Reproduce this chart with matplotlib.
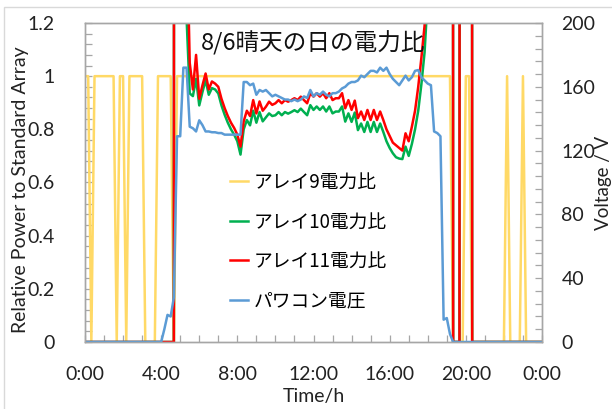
import matplotlib
matplotlib.use('Agg')
import matplotlib.pyplot as plt
from matplotlib.patches import Rectangle
from matplotlib.ticker import MultipleLocator, FixedLocator, FixedFormatter

# 10-minute samples, 0:00 .. 24:00 (145 points)
time_h = [i / 6 for i in range(145)]

# Array 9 power ratio (rows = 2 hours each)
arr9 = [
    1, 1, 0, 1, 1, 1, 1, 1, 1, 1, 0, 1,
    1, 0, 1, 1, 1, 1, 1, 0, 0, 0, 0, 1,
    1, 1, 1, 1, 0, 1, 1, 1, 1, 1, 1, 1,
    1, 1, 1, 1, 1, 1, 1, 1, 1, 1, 1, 1,
    1, 1, 1, 1, 1, 1, 1, 1, 1, 1, 1, 1,
    1, 1, 1, 1, 1, 1, 1, 1, 1, 1, 1, 1,
    1, 1, 1, 1, 1, 1, 1, 1, 1, 1, 1, 1,
    1, 1, 1, 1, 1, 1, 1, 1, 1, 1, 1, 1,
    1, 1, 1, 1, 1, 1, 1, 1, 1, 1, 1, 1,
    1, 1, 1, 1, 1, 1, 1, 1, 0, 0, 0, 0,
    1, 1, 0, 0, 0, 0, 0, 0, 0, 0, 0, 0,
    0, 1, 0, 0, 0, 0, 1, 0, 0, 0, 0, 0,
    0,
]

# Array 10 power ratio
arr10 = [
    0, 0, 0, 0, 0, 0, 0, 0, 0, 0, 0, 0,
    0, 0, 0, 0, 0, 0, 0, 0, 0, 0, 0, 0,
    0, 0, 0, 0, 0, 40, 20, 6, 1.22, 0.935, 0.925, 0.99,
    0.89, 0.94, 0.985, 0.93, 0.955, 0.95, 0.935, 0.89, 0.855, 0.825, 0.80, 0.78,
    0.755, 0.705, 0.80, 0.835, 0.815, 0.87, 0.825, 0.865, 0.83, 0.845, 0.86, 0.85,
    0.853, 0.865, 0.853, 0.865, 0.859, 0.865, 0.872, 0.865, 0.878, 0.865, 0.853, 0.891,
    0.873, 0.886, 0.873, 0.886, 0.867, 0.886, 0.86, 0.867, 0.867, 0.886, 0.829, 0.86,
    0.828, 0.863, 0.797, 0.822, 0.79, 0.828, 0.79, 0.828, 0.79, 0.822, 0.79, 0.755,
    0.73, 0.71, 0.695, 0.69, 0.688, 0.735, 0.70, 0.745, 0.80, 0.87, 0.97, 1.09,
    1.3, 3, 8, 18, 30, 40, 40, 40, 0, 0, 0, 40,
    40, 40, 0, 0, 0, 0, 0, 0, 0, 0, 0, 0,
    0, 0, 0, 0, 0, 0, 0, 0, 0, 0, 0, 0,
    0,
]

# Array 11 power ratio
arr11 = [
    0, 0, 0, 0, 0, 0, 0, 0, 0, 0, 0, 0,
    0, 0, 0, 0, 0, 0, 0, 0, 0, 0, 0, 0,
    0, 0, 0, 0, 0, 40, 20, 6, 1.6, 1.05, 0.95, 1.08,
    0.915, 0.965, 1.01, 0.95, 0.98, 0.972, 0.96, 0.915, 0.88, 0.85, 0.825, 0.805,
    0.78, 0.735, 0.83, 0.87, 0.85, 0.91, 0.86, 0.905, 0.87, 0.885, 0.904, 0.892,
    0.898, 0.91, 0.898, 0.91, 0.904, 0.91, 0.917, 0.91, 0.923, 0.91, 0.898, 0.936,
    0.923, 0.936, 0.923, 0.936, 0.917, 0.936, 0.91, 0.917, 0.917, 0.936, 0.879, 0.91,
    0.873, 0.908, 0.842, 0.867, 0.835, 0.873, 0.835, 0.873, 0.835, 0.867, 0.835, 0.80,
    0.775, 0.75, 0.74, 0.73, 0.72, 0.785, 0.755, 0.81, 0.87, 0.96, 1.07, 1.19,
    1.7, 4, 10, 20, 30, 40, 40, 40, 0, 0, 0, 40,
    40, 40, 0, 0, 0, 0, 0, 0, 0, 0, 0, 0,
    0, 0, 0, 0, 0, 0, 0, 0, 0, 0, 0, 0,
    0,
]

# Power conditioner voltage (V)
pcs_v = [
    0, 0, 0, 0, 0, 0, 0, 0, 0, 0, 0, 0,
    0, 0, 0, 0, 0, 0, 0, 0, 0, 0, 0, 0,
    0, 8, 17, 16, 28, 129, 129, 172, 172, 135, 134, 132,
    139, 136, 132, 132, 131.5, 131.5, 131, 131, 130, 130, 130, 130,
    130, 130, 163, 163, 161, 162, 155, 158, 157, 158, 156, 154,
    155, 154, 153, 152, 152, 151, 152, 151, 152, 154, 153, 158,
    154, 156, 155, 157, 155, 154, 156, 156, 157, 159, 160, 162,
    163, 163, 164, 167, 166, 168, 170, 170, 169, 172, 170, 172,
    168, 165, 163, 161, 164, 167, 164, 166, 170, 170.5, 166, 164,
    162, 161, 132, 131, 129, 14, 15, 5, 0, 0, 0, 0,
    0, 0, 0, 0, 0, 0, 0, 0, 0, 0, 0, 0,
    0, 0, 0, 0, 0, 0, 0, 0, 0, 0, 0, 0,
    0,
]

labels = ['アレイ9電力比', 'アレイ10電力比', 'アレイ11電力比', 'パワコン電圧']
colors = ['#FFD966', '#00B050', '#FF0000', '#5B9BD5']
x_tick_hours = [0, 4, 8, 12, 16, 20, 24]
x_tick_labels = ['0:00', '4:00', '8:00', '12:00', '16:00', '20:00', '0:00']
title = '8/6晴天の日の電力比'

W, H = 612, 409
fig = plt.figure(figsize=(W / 100, H / 100), dpi=100)
fig.patch.set_facecolor('white')

L, R, T, B = 85, 542, 23, 342
ax = fig.add_axes([L / W, 1 - B / H, (R - L) / W, (B - T) / H])
ax2 = ax.twinx()

lw = 1.8
l9, = ax.plot(time_h, arr9, color=colors[0], lw=lw)
l10, = ax.plot(time_h, arr10, color=colors[1], lw=lw)
l11, = ax.plot(time_h, arr11, color=colors[2], lw=lw)
lv, = ax2.plot(time_h, pcs_v, color=colors[3], lw=lw)

ax.set_xlim(0, 24)
ax.set_ylim(0, 1.2)
ax2.set_ylim(0, 200)

tick_font = ['Lato', 'DejaVu Sans']
gray = '#a6a6a6'

ax.xaxis.set_major_locator(FixedLocator(x_tick_hours))
ax.xaxis.set_major_formatter(FixedFormatter(x_tick_labels))
ax.xaxis.set_minor_locator(MultipleLocator(1))
ax.yaxis.set_minor_locator(MultipleLocator(0.04))
ax.set_yticks([0, 0.2, 0.4, 0.6, 0.8, 1.0, 1.2])
ax.set_yticklabels(['0', '0.2', '0.4', '0.6', '0.8', '1', '1.2'])
ax2.yaxis.set_major_locator(MultipleLocator(40))
ax2.yaxis.set_minor_locator(MultipleLocator(8))

for a in (ax, ax2):
    for s in a.spines.values():
        s.set_color(gray)
        s.set_linewidth(1.0)
    a.tick_params(which='both', direction='in', length=5, width=0.9, color=gray,
                  labelsize=14, labelcolor='#222222')
ax.tick_params(axis='x', pad=17)
ax.tick_params(axis='y', pad=22)
ax2.tick_params(axis='y', pad=14)
for t in ax.get_xticklabels() + ax.get_yticklabels() + ax2.get_yticklabels():
    t.set_family(tick_font)

ax.set_xlabel('Time/h', family=tick_font, fontsize=14, color='#222222', labelpad=4)
ax.set_ylabel('Relative Power to Standard Array', family=tick_font, fontsize=14,
              color='#222222')
ax.yaxis.set_label_coords(-0.122, 0.476)
ax2.set_ylabel('Voltage / V', family=tick_font, fontsize=13.5, color='#222222',
               rotation=90, labelpad=0)

ax.text(0.5, 0.935, title, transform=ax.transAxes, ha='center', va='center',
        fontsize=17, family=['Noto Sans CJK JP', 'DejaVu Sans'], color='#111111')

leg = ax2.legend([l9, l10, l11, lv], labels, loc='upper left',
                 bbox_to_anchor=(230 / W, 1 - 172 / H), bbox_transform=fig.transFigure,
                 frameon=False, borderpad=0, borderaxespad=0, handlelength=0.95,
                 handletextpad=0.3, labelspacing=0.98,
                 prop={'family': ['Noto Sans CJK JP', 'DejaVu Sans'], 'size': 13.5})

# light chart border
fig.patches.append(Rectangle((4 / W, -0.1), 1.2, 1.1 - 7 / H, transform=fig.transFigure,
                             fill=False, edgecolor='#d9d9d9', lw=1.0))

fig.savefig('out.png', dpi=100, facecolor='white')
